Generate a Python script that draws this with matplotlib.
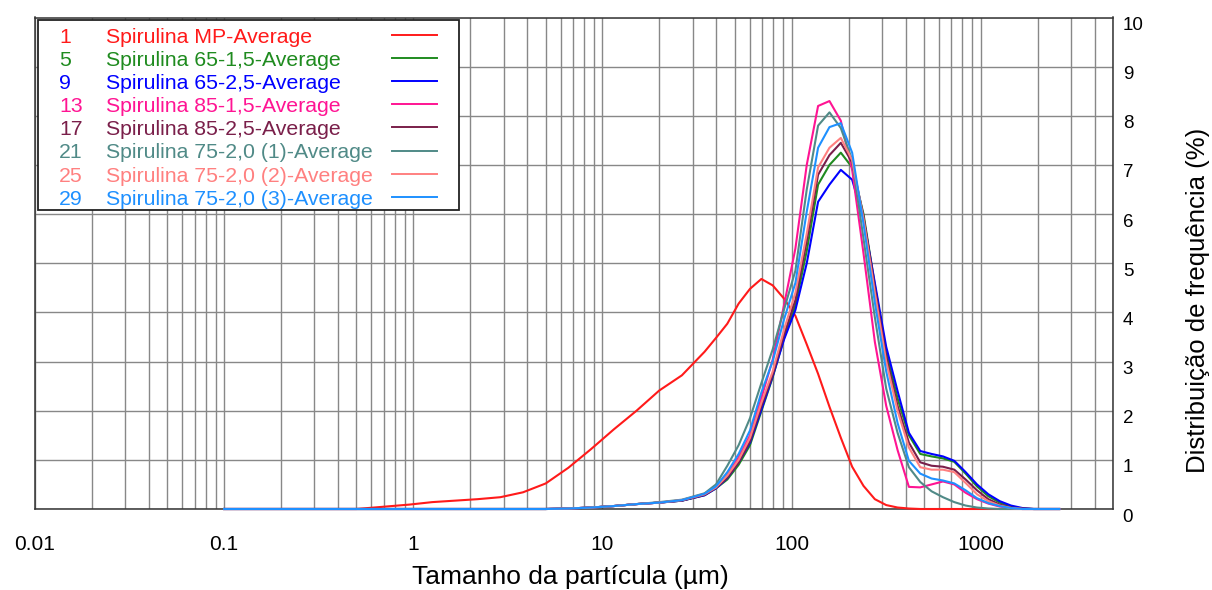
import matplotlib
matplotlib.use("Agg")
import matplotlib.pyplot as plt
import numpy as np
from matplotlib import font_manager
from matplotlib.patches import Rectangle
from matplotlib.ticker import LogLocator, NullFormatter
from matplotlib.transforms import ScaledTranslation

# particle size classes (um)
sizes = [0.1, 0.5, 0.955, 1.259, 1.660, 2.188, 2.884, 3.802, 5.012, 6.607,
         8.710, 11.48, 15.14, 19.95, 26.30, 34.67, 39.81, 45.71, 52.48, 60.26,
         69.18, 79.43, 91.20, 104.7, 120.2, 138.0, 158.5, 182.0, 208.9, 239.9,
         275.4, 316.2, 363.1, 416.9, 478.6, 549.5, 631.0, 724.4, 831.8, 955.0,
         1096, 1259, 1445, 1660, 1905, 2188, 2600]

mp_avg = [0, 0, 0.09, 0.14, 0.17, 0.20, 0.24, 0.34, 0.52, 0.84,
          1.22, 1.62, 2.00, 2.41, 2.72, 3.20, 3.48, 3.77, 4.18, 4.48,
          4.68, 4.55, 4.28, 3.93, 3.35, 2.75, 2.08, 1.45, 0.86, 0.47,
          0.20, 0.08, 0.03, 0.01, 0, 0, 0, 0, 0, 0,
          0, 0, 0, 0, 0, 0, 0]
s65_15 = [0, 0, 0, 0, 0, 0, 0, 0, 0, 0.01,
          0.03, 0.06, 0.10, 0.13, 0.17, 0.28, 0.42, 0.60, 0.90, 1.30,
          1.99, 2.68, 3.48, 4.15, 5.25, 6.60, 7.00, 7.25, 6.95, 6.00,
          4.55, 3.20, 2.25, 1.50, 1.12, 1.07, 1.03, 0.96, 0.72, 0.46,
          0.26, 0.13, 0.05, 0.01, 0, 0, 0]
s65_25 = [0, 0, 0, 0, 0, 0, 0, 0, 0, 0.01,
          0.03, 0.06, 0.10, 0.13, 0.17, 0.28, 0.42, 0.63, 0.95, 1.35,
          2.02, 2.70, 3.45, 4.05, 5.00, 6.25, 6.60, 6.90, 6.70, 5.90,
          4.60, 3.30, 2.40, 1.55, 1.18, 1.12, 1.07, 0.98, 0.75, 0.50,
          0.30, 0.16, 0.07, 0.02, 0, 0, 0]
s85_15 = [0, 0, 0, 0, 0, 0, 0, 0, 0, 0.01,
          0.03, 0.06, 0.10, 0.13, 0.18, 0.30, 0.44, 0.70, 1.05, 1.50,
          2.26, 3.04, 4.15, 5.30, 7.00, 8.20, 8.30, 7.90, 6.90, 5.20,
          3.40, 2.10, 1.20, 0.45, 0.44, 0.50, 0.56, 0.50, 0.33, 0.20,
          0.11, 0.05, 0.02, 0, 0, 0, 0]
s85_25 = [0, 0, 0, 0, 0, 0, 0, 0, 0, 0.01,
          0.03, 0.06, 0.10, 0.13, 0.17, 0.29, 0.43, 0.64, 0.95, 1.38,
          2.09, 2.73, 3.55, 4.25, 5.45, 6.80, 7.20, 7.45, 7.05, 5.95,
          4.50, 3.10, 2.10, 1.35, 0.95, 0.88, 0.86, 0.80, 0.60, 0.38,
          0.20, 0.09, 0.03, 0.01, 0, 0, 0]
s75_20_1 = [0, 0, 0, 0, 0, 0, 0, 0, 0, 0.01,
            0.03, 0.06, 0.10, 0.14, 0.19, 0.32, 0.50, 0.88, 1.30, 1.85,
            2.56, 3.25, 4.06, 4.85, 6.50, 7.80, 8.07, 7.75, 7.10, 5.50,
            3.90, 2.45, 1.55, 0.85, 0.55, 0.36, 0.24, 0.14, 0.07, 0.03,
            0.01, 0, 0, 0, 0, 0, 0]
s75_20_2 = [0, 0, 0, 0, 0, 0, 0, 0, 0, 0.01,
            0.03, 0.06, 0.10, 0.13, 0.18, 0.30, 0.44, 0.68, 1.00, 1.45,
            2.16, 2.80, 3.65, 4.40, 5.60, 6.95, 7.35, 7.55, 7.10, 5.90,
            4.40, 3.00, 2.00, 1.25, 0.85, 0.80, 0.80, 0.75, 0.53, 0.30,
            0.16, 0.07, 0.02, 0, 0, 0, 0]
s75_20_3 = [0, 0, 0, 0, 0, 0, 0, 0, 0, 0.01,
            0.03, 0.06, 0.10, 0.13, 0.18, 0.31, 0.46, 0.75, 1.12, 1.60,
            2.37, 3.01, 3.86, 4.60, 6.05, 7.35, 7.77, 7.85, 7.25, 5.80,
            4.20, 2.80, 1.75, 0.98, 0.72, 0.62, 0.58, 0.52, 0.38, 0.22,
            0.12, 0.06, 0.02, 0, 0, 0, 0]

run_nums = ["1", "5", "9", "13", "17", "21", "25", "29"]
names = ["Spirulina MP-Average", "Spirulina 65-1,5-Average", "Spirulina 65-2,5-Average",
         "Spirulina 85-1,5-Average", "Spirulina 85-2,5-Average",
         "Spirulina 75-2,0 (1)-Average", "Spirulina 75-2,0 (2)-Average",
         "Spirulina 75-2,0 (3)-Average"]
colors = ["#ff1a1a", "#1f8b1f", "#0000ff", "#ff1493", "#7a1f4a", "#508a87", "#ff8080", "#1e90ff"]
series = [mp_avg, s65_15, s65_25, s85_15, s85_25, s75_20_1, s75_20_2, s75_20_3]

xticks = [0.01, 0.1, 1, 10, 100, 1000]
xtick_labels = ["0.01", "0.1", "1", "10", "100", "1000"]

installed = {f.name for f in font_manager.fontManager.ttflist}
base_font = "Liberation Sans" if "Liberation Sans" in installed else "DejaVu Sans"
plt.rcParams["font.family"] = base_font

W, H = 1212, 590
fig = plt.figure(figsize=(W / 100, H / 100), dpi=100)
ax_l, ax_r, ax_t, ax_b = 35, 1113, 17.5, 509
ax = fig.add_axes([ax_l / W, 1 - ax_b / H, (ax_r - ax_l) / W, (ax_b - ax_t) / H])

for vals, col in zip(series, colors):
    ax.plot(sizes, vals, color=col, lw=1.5, clip_on=False, zorder=3)

ax.set_xscale("log")
ax.set_xlim(0.01, 5000)
ax.set_ylim(0, 10)
ax.set_xticks(xticks, labels=xtick_labels)
ax.xaxis.set_minor_locator(LogLocator(base=10, subs=np.arange(2, 10), numticks=20))
ax.xaxis.set_minor_formatter(NullFormatter())
ax.set_yticks(range(0, 11))
ax.yaxis.tick_right()

ax.grid(which="both", axis="x", color="#888888", lw=1.0)
ax.grid(which="major", axis="y", color="#888888", lw=1.0)
for sp in ax.spines.values():
    sp.set_color("#333333")
    sp.set_linewidth(1.1)

ax.tick_params(which="both", length=0)
ax.tick_params(axis="x", pad=19, labelsize=15)
ax.tick_params(axis="y", pad=7, labelsize=13.5)
for t in ax.yaxis.get_major_ticks():
    t.label2.set_transform(t.label2.get_transform() + ScaledTranslation(0, -0.06, fig.dpi_scale_trans))

ax.set_xlabel("Tamanho da partícula (µm)", fontsize=19, va="center")
ax.xaxis.set_label_coords((570 - ax_l) / (ax_r - ax_l), -(577 - ax_b) / (ax_b - ax_t))
ax.yaxis.set_label_position("right")
ax.set_ylabel("Distribuição de frequência (%)", fontsize=18.5, rotation=90, va="center", ha="center")
ax.yaxis.set_label_coords((1198 - ax_l) / (ax_r - ax_l), (ax_b - 300) / (ax_b - ax_t))

# legend box drawn by hand (pixel positions from the top-left corner)
def ax_pt(px, py):
    return (px - ax_l) / (ax_r - ax_l), (ax_b - py) / (ax_b - ax_t)

x0, y0 = ax_pt(38, 209.5)
x1, y1 = ax_pt(459, 20)
ax.add_patch(Rectangle((x0, y0), x1 - x0, y1 - y0, transform=ax.transAxes,
                       facecolor="white", edgecolor="#222222", lw=1.3, zorder=10))
for i, (num, name, col) in enumerate(zip(run_nums, names, colors)):
    base_y = 43 + 23.1 * i
    tx, ty = ax_pt(59, base_y)
    ax.text(tx, ty, num, color=col, fontsize=15.3, va="baseline", ha="left",
            transform=ax.transAxes, zorder=11)
    tx, ty = ax_pt(106, base_y)
    ax.text(tx, ty, name, color=col, fontsize=15.3, va="baseline", ha="left",
            transform=ax.transAxes, zorder=11)
    lx0, ly = ax_pt(392, base_y - 8)
    lx1, _ = ax_pt(437, base_y - 8)
    ax.plot([lx0, lx1], [ly, ly], color=col, lw=1.4, transform=ax.transAxes, zorder=11)

fig.savefig("out.png", dpi=100)
